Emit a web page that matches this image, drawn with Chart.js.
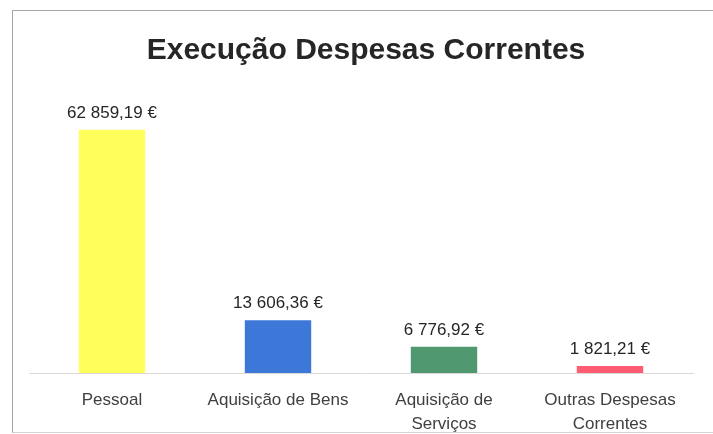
<!DOCTYPE html>
<html>
<head>
<meta charset="utf-8">
<script src="https://cdn.jsdelivr.net/npm/chart.js@4/dist/chart.umd.min.js"></script>
<style>
  html, body { margin: 0; padding: 0; background: #fff; }
  #wrap { position: relative; width: 713px; height: 434px; overflow: hidden; }
  #frame { position: absolute; left: 12px; top: 10px; width: 720px; height: 423px; border: 1px solid #a6a6a6; border-bottom-color: #d4d4d4; box-sizing: border-box; }
  canvas { position: absolute; left: 0; top: 0; }
</style>
</head>
<body>
<div id="wrap">
  <div id="frame"></div>
  <canvas id="chart" width="713" height="434"></canvas>
</div>
<script>
const chartTitle = 'Execução Despesas Correntes';
const categories = ['Pessoal', 'Aquisição de Bens', ['Aquisição de', 'Serviços'], ['Outras Despesas', 'Correntes']];
const values = [62859.19, 13606.36, 6776.92, 1821.21];
const barColors = ['#ffff5c', '#3d78d8', '#4f9870', '#ff5c72'];

function euro(v) {
  const parts = v.toFixed(2).split('.');
  return parts[0].replace(/\B(?=(\d{3})+(?!\d))/g, ' ') + ',' + parts[1] + ' €';
}

// title (centred on the frame, not the plot) and value labels above the bars
const annotations = {
  id: 'annotations',
  afterDatasetsDraw(chart) {
    const ctx = chart.ctx;
    const meta = chart.getDatasetMeta(0);
    ctx.save();
    ctx.textAlign = 'center';

    ctx.font = 'bold 30px "Liberation Sans", Arial, sans-serif';
    ctx.fillStyle = '#262626';
    ctx.textBaseline = 'middle';
    ctx.fillText(chartTitle, 366, 51);

    ctx.font = '17px "Liberation Sans", Arial, sans-serif';
    ctx.textBaseline = 'alphabetic';
    meta.data.forEach((bar, i) => {
      ctx.fillText(euro(values[i]), bar.x, bar.y - 12);
    });
    ctx.restore();
  }
};

new Chart(document.getElementById('chart'), {
  type: 'bar',
  data: {
    labels: categories,
    datasets: [{
      data: values,
      backgroundColor: barColors,
      borderWidth: 0,
      categoryPercentage: 1,
      barPercentage: 0.4
    }]
  },
  options: {
    responsive: false,
    animation: false,
    layout: { padding: { left: 29, right: 20, top: 102, bottom: 0 } },
    plugins: {
      legend: { display: false },
      tooltip: { enabled: false },
      title: { display: false }
    },
    scales: {
      x: {
        grid: { display: false, drawTicks: false },
        border: { display: true, color: '#d9d9d9', width: 1 },
        ticks: {
          color: '#404040',
          padding: 15,
          font: { family: '"Liberation Sans", Arial, sans-serif', size: 17, lineHeight: 24 / 17 },
          maxRotation: 0,
          autoSkip: false
        },
        afterFit(scale) { scale.height = 61; }
      },
      y: {
        display: false,
        min: 0,
        max: 70000
      }
    }
  },
  plugins: [annotations]
});
</script>
</body>
</html>
